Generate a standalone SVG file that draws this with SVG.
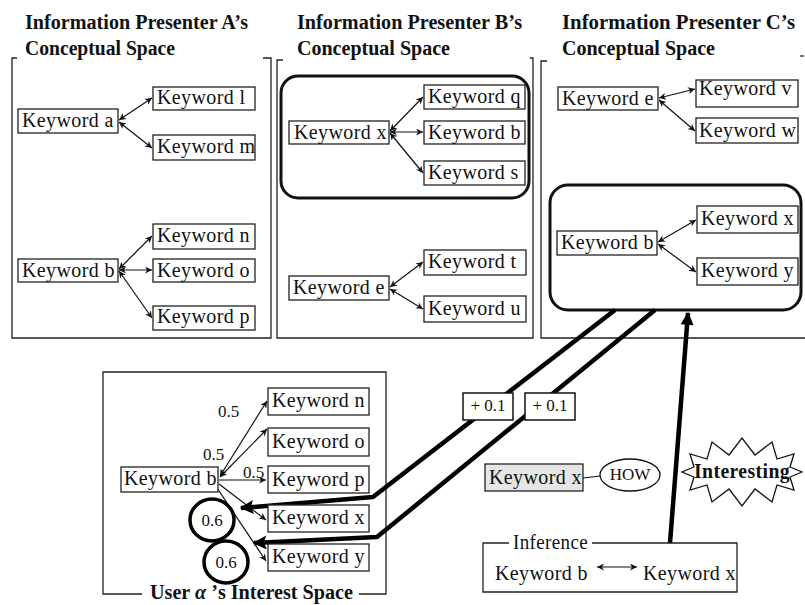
<svg xmlns="http://www.w3.org/2000/svg" width="805" height="605" viewBox="0 0 805 605">
<style>
  .kw { fill: #fff; stroke: #222; stroke-width: 1.3; }
  .kt { font-family: "Liberation Serif", "Times New Roman", serif; font-size: 20px; fill: #111; letter-spacing: 0.4px; }
  .title { font-family: "Liberation Serif", "Times New Roman", serif; font-size: 20px; font-weight: bold; fill: #111; }
  .panel { fill: none; stroke: #222; stroke-width: 1.3; }
  .group { fill: none; stroke: #111; stroke-width: 3; }
  .conn { stroke: #111; stroke-width: 1.2; fill: none; }
  .thick { stroke: #000; stroke-width: 4.5; fill: none; stroke-linejoin: round; }
  .small { font-family: "Liberation Serif", "Times New Roman", serif; font-size: 17px; fill: #111; }
</style>
<defs>
  <marker id="ah" viewBox="0 0 10 10" refX="10" refY="5" markerWidth="10" markerHeight="7" markerUnits="userSpaceOnUse" orient="auto-start-reverse">
    <path d="M0,0 L10,5 L0,10 L3,5 z" fill="#111"/>
  </marker>
  <marker id="big" viewBox="0 0 10 10" refX="9" refY="5" markerWidth="22" markerHeight="14" markerUnits="userSpaceOnUse" orient="auto">
    <path d="M0,0 L10,5 L0,10 L2,5 z" fill="#000"/>
  </marker>
  <marker id="up" viewBox="0 0 10 10" refX="9" refY="5" markerWidth="26" markerHeight="13" markerUnits="userSpaceOnUse" orient="auto">
    <path d="M0,0 L10,5 L0,10 z" fill="#000"/>
  </marker>
</defs>

<!-- Titles -->
<g id="titles">
  <text class="title" x="25" y="29" textLength="223" lengthAdjust="spacingAndGlyphs">Information Presenter A’s</text>
  <text class="title" x="25" y="55" textLength="150" lengthAdjust="spacingAndGlyphs">Conceptual Space</text>
  <text class="title" x="297" y="29" textLength="225" lengthAdjust="spacingAndGlyphs">Information Presenter B’s</text>
  <text class="title" x="297" y="55" textLength="153" lengthAdjust="spacingAndGlyphs">Conceptual Space</text>
  <text class="title" x="562" y="29" textLength="233" lengthAdjust="spacingAndGlyphs">Information Presenter C’s</text>
  <text class="title" x="562" y="55" textLength="153" lengthAdjust="spacingAndGlyphs">Conceptual Space</text>
</g>

<!-- Panels -->
<g id="panelA">
  <path class="panel" d="M17,58 L12,58 L12,338 L271,338 L271,58 L263,58"/>
</g>
<g id="panelB">
  <path class="panel" d="M283,60 L277,60 L277,338 L533,338 L533,58 L530,58"/>
</g>
<g id="panelC">
  <path class="panel" d="M547,61 L541,61 L541,338 L805,338"/>
  <path class="panel" d="M800,56 L804,56"/>
</g>
<g id="userPanel">
  <path class="panel" d="M142,594 L103,594 L103,372 L386,372 L386,594 L359,594"/>
  <text class="title" x="150" y="599" font-size="17" textLength="203" lengthAdjust="spacingAndGlyphs">User <tspan font-style="italic">α</tspan> ’s Interest Space</text>
</g>

<!-- Group highlights -->
<g id="groupB"><rect class="group" x="281" y="76" width="248" height="122" rx="17"/></g>
<g id="groupC"><rect class="group" x="550" y="185" width="251" height="125" rx="18"/></g>

<!-- Connectors -->
<g id="connectors">
  <line class="conn" x1="119" y1="120" x2="152" y2="98" marker-start="url(#ah)" marker-end="url(#ah)"/>
  <line class="conn" x1="119" y1="122" x2="152" y2="148" marker-start="url(#ah)" marker-end="url(#ah)"/>
  <line class="conn" x1="119" y1="269" x2="152" y2="236" marker-start="url(#ah)" marker-end="url(#ah)"/>
  <line class="conn" x1="119" y1="270" x2="152" y2="270" marker-start="url(#ah)" marker-end="url(#ah)"/>
  <line class="conn" x1="119" y1="271" x2="152" y2="318" marker-start="url(#ah)" marker-end="url(#ah)"/>
  <line class="conn" x1="390" y1="131" x2="423" y2="97" marker-start="url(#ah)" marker-end="url(#ah)"/>
  <line class="conn" x1="390" y1="132" x2="423" y2="132" marker-start="url(#ah)" marker-end="url(#ah)"/>
  <line class="conn" x1="390" y1="133" x2="423" y2="173" marker-start="url(#ah)" marker-end="url(#ah)"/>
  <line class="conn" x1="390" y1="287" x2="423" y2="262" marker-start="url(#ah)" marker-end="url(#ah)"/>
  <line class="conn" x1="390" y1="289" x2="423" y2="309" marker-start="url(#ah)" marker-end="url(#ah)"/>
  <line class="conn" x1="659" y1="98" x2="695" y2="89" marker-start="url(#ah)" marker-end="url(#ah)"/>
  <line class="conn" x1="659" y1="100" x2="695" y2="131" marker-start="url(#ah)" marker-end="url(#ah)"/>
  <line class="conn" x1="658" y1="242" x2="696" y2="220" marker-start="url(#ah)" marker-end="url(#ah)"/>
  <line class="conn" x1="658" y1="244" x2="696" y2="272" marker-start="url(#ah)" marker-end="url(#ah)"/>
  <line class="conn" x1="220" y1="476" x2="267" y2="401" marker-start="url(#ah)" marker-end="url(#ah)"/>
  <line class="conn" x1="220" y1="477" x2="267" y2="429" marker-start="url(#ah)" marker-end="url(#ah)"/>
  <line class="conn" x1="219" y1="480" x2="266" y2="480" marker-end="url(#ah)"/>
  <line class="conn" x1="219" y1="484" x2="266" y2="520" marker-end="url(#ah)"/>
  <line class="conn" x1="217" y1="488" x2="266" y2="561" marker-end="url(#ah)"/>
  <polyline class="thick" points="615,310 373,497 241,508" marker-end="url(#big)"/>
  <polyline class="thick" points="655,310 377,537 254,543" marker-end="url(#big)"/>
  <line class="thick" x1="670" y1="543" x2="688" y2="313" marker-end="url(#up)"/>
  <line class="conn" x1="583" y1="478" x2="600" y2="476"/>
</g>

<!-- Panel A nodes -->
<g id="A-kw-a"><rect class="kw" x="18" y="109" width="100" height="24"/><text class="kt" x="22" y="127">Keyword a</text></g>
<g id="A-kw-l"><rect class="kw" x="153" y="87" width="102" height="23"/><text class="kt" x="157" y="104">Keyword l</text></g>
<g id="A-kw-m"><rect class="kw" x="153" y="135" width="102" height="25"/><text class="kt" x="157" y="153">Keyword m</text></g>
<g id="A-kw-b"><rect class="kw" x="18" y="259" width="100" height="23"/><text class="kt" x="22" y="277">Keyword b</text></g>
<g id="A-kw-n"><rect class="kw" x="153" y="224" width="102" height="25"/><text class="kt" x="157" y="242">Keyword n</text></g>
<g id="A-kw-o"><rect class="kw" x="153" y="259" width="102" height="23"/><text class="kt" x="157" y="277">Keyword o</text></g>
<g id="A-kw-p"><rect class="kw" x="153" y="306" width="102" height="24"/><text class="kt" x="157" y="323">Keyword p</text></g>

<!-- Panel B nodes -->
<g id="B-kw-x"><rect class="kw" x="289" y="121" width="100" height="23"/><text class="kt" x="294" y="139">Keyword x</text></g>
<g id="B-kw-q"><rect class="kw" x="424" y="85" width="101" height="24"/><text class="kt" x="428" y="103">Keyword q</text></g>
<g id="B-kw-b"><rect class="kw" x="424" y="121" width="101" height="23"/><text class="kt" x="428" y="139">Keyword b</text></g>
<g id="B-kw-s"><rect class="kw" x="424" y="161" width="101" height="24"/><text class="kt" x="428" y="179">Keyword s</text></g>
<g id="B-kw-e"><rect class="kw" x="289" y="276" width="100" height="24"/><text class="kt" x="293" y="294">Keyword e</text></g>
<g id="B-kw-t"><rect class="kw" x="424" y="250" width="102" height="25"/><text class="kt" x="428" y="268">Keyword t</text></g>
<g id="B-kw-u"><rect class="kw" x="424" y="296" width="102" height="26"/><text class="kt" x="428" y="315">Keyword u</text></g>

<!-- Panel C nodes -->
<g id="C-kw-e"><rect class="kw" x="558" y="87" width="100" height="23"/><text class="kt" x="562" y="105">Keyword e</text></g>
<g id="C-kw-v"><rect class="kw" x="696" y="80" width="102" height="27"/><text class="kt" x="699" y="95">Keyword v</text></g>
<g id="C-kw-w"><rect class="kw" x="696" y="118" width="102" height="25"/><text class="kt" x="699" y="137">Keyword w</text></g>
<g id="C-kw-b"><rect class="kw" x="557" y="231" width="100" height="24"/><text class="kt" x="561" y="249">Keyword b</text></g>
<g id="C-kw-x"><rect class="kw" x="697" y="206" width="101" height="27"/><text class="kt" x="701" y="225">Keyword x</text></g>
<g id="C-kw-y"><rect class="kw" x="697" y="258" width="101" height="27"/><text class="kt" x="701" y="277">Keyword y</text></g>

<!-- User panel nodes -->
<g id="U-kw-b"><rect class="kw" x="121" y="467" width="97" height="25"/><text class="kt" x="124" y="485">Keyword b</text></g>
<g id="U-kw-n"><rect class="kw" x="268" y="388" width="101" height="27"/><text class="kt" x="272" y="407">Keyword n</text></g>
<g id="U-kw-o"><rect class="kw" x="268" y="428" width="101" height="28"/><text class="kt" x="272" y="448">Keyword o</text></g>
<g id="U-kw-p"><rect class="kw" x="268" y="466" width="101" height="27"/><text class="kt" x="272" y="486">Keyword p</text></g>
<g id="U-kw-x"><rect class="kw" x="268" y="505" width="101" height="27"/><text class="kt" x="272" y="524">Keyword x</text></g>
<g id="U-kw-y"><rect class="kw" x="268" y="544" width="101" height="27"/><text class="kt" x="272" y="563">Keyword y</text></g>

<!-- weights -->
<g id="weights">
  <text class="small" x="218" y="417">0.5</text>
  <text class="small" x="203" y="460">0.5</text>
  <text class="small" x="243" y="478">0.5</text>
</g>
<g id="circle1"><ellipse cx="212" cy="520" rx="22" ry="21" fill="none" stroke="#000" stroke-width="3.5"/><text class="small" x="212" y="526" font-size="18" text-anchor="middle">0.6</text></g>
<g id="circle2"><ellipse cx="226" cy="562" rx="22" ry="21" fill="none" stroke="#000" stroke-width="3.5"/><text class="small" x="226" y="568" font-size="18" text-anchor="middle">0.6</text></g>

<!-- +0.1 labels -->
<g id="plus1"><rect x="463" y="393" width="50" height="27" fill="#fff" stroke="#111" stroke-width="1.5"/><text class="small" x="488" y="411" font-size="12" text-anchor="middle">+ 0.1</text></g>
<g id="plus2"><rect x="525" y="393" width="50" height="27" fill="#fff" stroke="#111" stroke-width="1.5"/><text class="small" x="550" y="411" font-size="12" text-anchor="middle">+ 0.1</text></g>

<!-- Keyword x / HOW -->
<g id="how-kw-x"><rect x="485" y="464" width="98" height="27" fill="#e6e6e6" stroke="#222" stroke-width="1.3"/><text class="kt" x="489" y="484">Keyword x</text></g>
<g id="how"><ellipse cx="630" cy="475" rx="30" ry="16" fill="#fff" stroke="#111" stroke-width="1.3"/><text class="small" x="630" y="480" font-size="13" text-anchor="middle">HOW</text></g>

<!-- Interesting starburst -->
<g id="interesting">
  <polygon points="802,472 790,477 794,490 777,485 772,502 755,489 742,506 729,489 712,502 707,485 690,490 694,477 682,472 694,467 690,454 707,459 712,442 729,455 742,438 755,455 772,442 777,459 794,454 790,467" fill="#fff" stroke="#111" stroke-width="1.3"/>
  <text class="kt" x="742" y="478" font-size="18" font-weight="bold" text-anchor="middle" textLength="96" lengthAdjust="spacingAndGlyphs">Interesting</text>
</g>

<!-- Inference -->
<g id="inference">
  <path class="panel" d="M509,543 L483,543 L483,592 L737,592 L737,543 L592,543"/>
  <text class="kt" x="513" y="549" font-size="18" textLength="75" lengthAdjust="spacingAndGlyphs">Inference</text>
  <text class="kt" x="495" y="580">Keyword b</text>
  <line class="conn" x1="597" y1="567" x2="637" y2="567" marker-start="url(#ah)" marker-end="url(#ah)"/>
  <text class="kt" x="643" y="580">Keyword x</text>
</g>
</svg>
